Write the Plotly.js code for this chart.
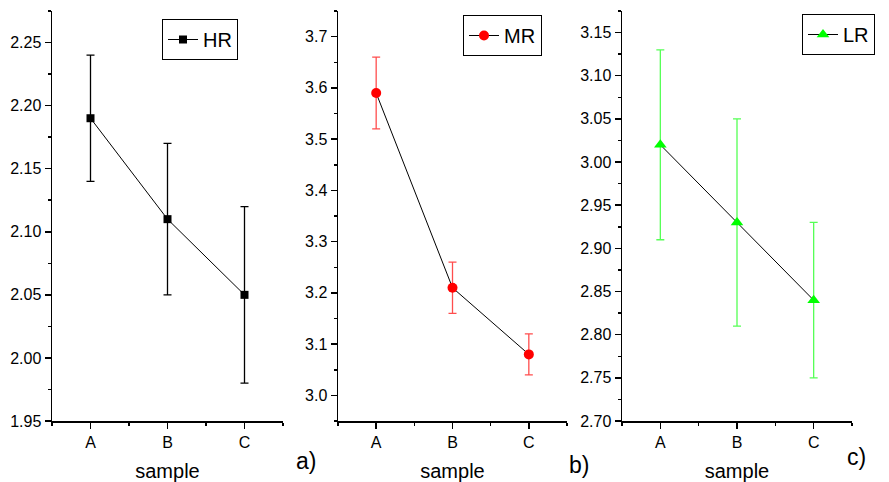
<!DOCTYPE html>
<html>
<head>
<meta charset="utf-8">
<script src="https://cdn.plot.ly/plotly-3.0.1.min.js"></script>
<style>html,body{margin:0;padding:0;background:#fff;}#chart{width:889px;height:482px;}</style>
</head>
<body>
<div id="chart"></div>
<script>
// ---- data ----
const categories = ["A", "B", "C"];
const hrValues = [2.19, 2.11, 2.05];
const hrErrors = [0.05, 0.06, 0.07];
const mrValues = [3.59, 3.21, 3.08];
const mrErrors = [0.07, 0.05, 0.04];
const lrValues = [3.02, 2.93, 2.84];
const lrErrors = [0.11, 0.12, 0.09];
const seriesNames = ["HR", "MR", "LR"];
const panelLabels = ["a)", "b)", "c)"];
const xTitle = "sample";

const W = 889, H = 482;
const font = "Arial, 'Liberation Sans', sans-serif";
const xpos = [0, 1, 2];

function px(x){ return x / W; }
function py(y){ return (H - y) / H; }

const yDom = [py(421), py(11)];

function xaxis(l, r, anchor){
  return {
    domain: [px(l), px(r)], anchor: anchor,
    range: [-0.5, 2.5], tickmode: "array", tickvals: xpos, ticktext: categories,
    showline: true, linecolor: "#000", linewidth: 1.5, mirror: false,
    ticks: "outside", ticklen: 6, tickwidth: 1.5, tickcolor: "#000",
    minor: {tickmode: "linear", tick0: -0.5, dtick: 0.5, ticks: "outside", ticklen: 3, tickwidth: 1.5, tickcolor: "#000"},
    showgrid: false, zeroline: false, fixedrange: true,
    tickfont: {family: font, size: 16, color: "#000"},
    title: {text: xTitle, font: {family: font, size: 20, color: "#000"}, standoff: 21},
    automargin: false
  };
}
function yaxis(anchor, range, dtick, fmt){
  return {
    domain: yDom, anchor: anchor, range: range,
    tick0: 0, dtick: dtick, tickformat: fmt,
    showline: true, linecolor: "#000", linewidth: 1.5, mirror: false,
    ticks: "outside", ticklen: 6, tickwidth: 1.5, tickcolor: "#000",
    minor: {dtick: dtick / 2, ticks: "outside", ticklen: 3, tickwidth: 1.5, tickcolor: "#000"},
    showgrid: false, zeroline: false, fixedrange: true,
    tickfont: {family: font, size: 16, color: "#000"},
    automargin: false
  };
}

const traces = [
  {
    x: xpos, y: hrValues, name: seriesNames[0], type: "scatter", mode: "lines+markers",
    xaxis: "x", yaxis: "y", legend: "legend",
    line: {color: "#000", width: 1},
    marker: {symbol: "square", size: 8, color: "#000"},
    error_y: {type: "data", array: hrErrors, visible: true, color: "#000", thickness: 1.3, width: 4}
  },
  {
    x: xpos, y: mrValues, name: seriesNames[1], type: "scatter", mode: "lines+markers",
    xaxis: "x2", yaxis: "y2", legend: "legend2",
    line: {color: "#000", width: 1},
    marker: {symbol: "circle", size: 10, color: "#ff0000"},
    error_y: {type: "data", array: mrErrors, visible: true, color: "#ff4d4d", thickness: 1.3, width: 4}
  },
  {
    x: xpos, y: lrValues, name: seriesNames[2], type: "scatter", mode: "lines+markers",
    xaxis: "x3", yaxis: "y3", legend: "legend3",
    line: {color: "#000", width: 1},
    marker: {symbol: "triangle-up", size: 11, color: "#00ff00"},
    error_y: {type: "data", array: lrErrors, visible: true, color: "#55ff55", thickness: 1.3, width: 4}
  }
];

function legend(x, y){
  return {
    x: px(x), y: py(y), xanchor: "left", yanchor: "top", xref: "paper", yref: "paper",
    bordercolor: "#000", borderwidth: 1, bgcolor: "#fff",
    font: {family: font, size: 20, color: "#000"},
    itemwidth: 30, tracegroupgap: 0
  };
}

const layout = {
  width: W, height: H,
  margin: {l: 0, r: 0, t: 0, b: 0},
  paper_bgcolor: "#fff", plot_bgcolor: "#fff",
  showlegend: true,
  xaxis: xaxis(52, 283, "y"),
  yaxis: yaxis("x", [1.95, 2.275], 0.05, ".2f"),
  xaxis2: xaxis(338, 567, "y2"),
  yaxis2: yaxis("x2", [2.95, 3.75], 0.1, ".1f"),
  xaxis3: xaxis(622, 852, "y3"),
  yaxis3: yaxis("x3", [2.70, 3.175], 0.05, ".2f"),
  legend: legend(162, 19),
  legend2: legend(463, 15),
  legend3: legend(802, 14),
  annotations: [
    {text: panelLabels[0], x: px(306), y: py(476), xref: "paper", yref: "paper", showarrow: false, font: {family: font, size: 23, color: "#000"}},
    {text: panelLabels[1], x: px(579), y: py(480), xref: "paper", yref: "paper", showarrow: false, font: {family: font, size: 23, color: "#000"}},
    {text: panelLabels[2], x: px(868), y: py(472), xref: "paper", yref: "paper", showarrow: false, font: {family: font, size: 23, color: "#000"}}
  ]
};

Plotly.newPlot("chart", traces, layout, {displayModeBar: false, staticPlot: true});
</script>
</body>
</html>
